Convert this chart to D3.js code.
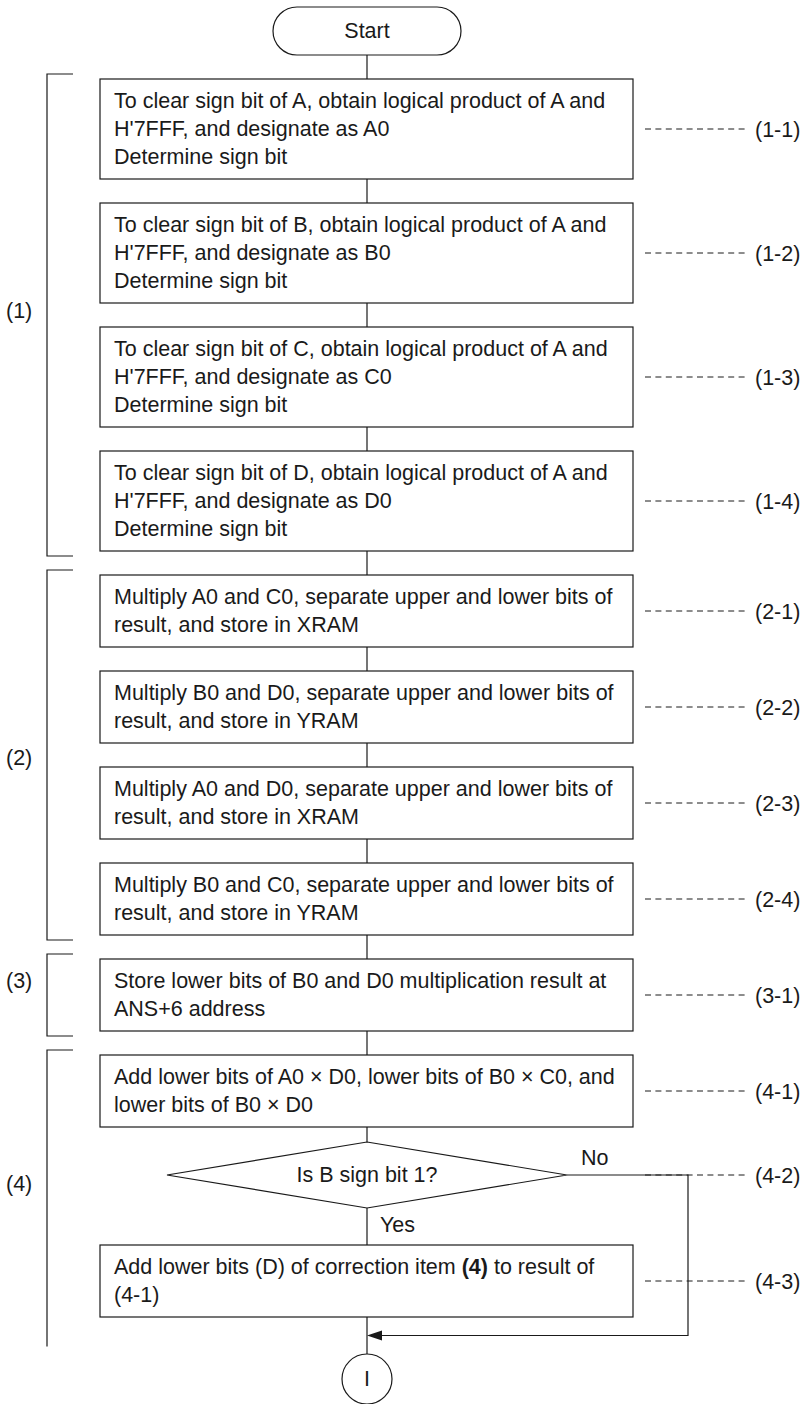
<!DOCTYPE html>
<html>
<head>
<meta charset="utf-8">
<script src="https://cdn.jsdelivr.net/npm/d3@7"></script>
<style>
    body { margin: 0; background: #fff; }
    svg { display: block; }
</style>
</head>
<body>
<div id="chart"></div>
<script>

// flow steps, top to bottom
const stepKinds = ["terminal", "process", "process", "process", "process",
    "process", "process", "process", "process", "process",
    "process", "decision", "process", "connector"];

const stepTexts = [
    ["Start"],
    ["To clear sign bit of A, obtain logical product of A and", "H'7FFF, and designate as A0", "Determine sign bit"],
    ["To clear sign bit of B, obtain logical product of A and", "H'7FFF, and designate as B0", "Determine sign bit"],
    ["To clear sign bit of C, obtain logical product of A and", "H'7FFF, and designate as C0", "Determine sign bit"],
    ["To clear sign bit of D, obtain logical product of A and", "H'7FFF, and designate as D0", "Determine sign bit"],
    ["Multiply A0 and C0, separate upper and lower bits of", "result, and store in XRAM"],
    ["Multiply B0 and D0, separate upper and lower bits of", "result, and store in YRAM"],
    ["Multiply A0 and D0, separate upper and lower bits of", "result, and store in XRAM"],
    ["Multiply B0 and C0, separate upper and lower bits of", "result, and store in YRAM"],
    ["Store lower bits of B0 and D0 multiplication result at", "ANS+6 address"],
    ["Add lower bits of A0 \u00d7 D0, lower bits of B0 \u00d7 C0, and", "lower bits of B0 \u00d7 D0"],
    ["Is B sign bit 1?"],
    ["Add lower bits (D) of correction item **(4)** to result of", "(4-1)"],
    ["I"]
];

const stepRefs = ["", "(1-1)", "(1-2)", "(1-3)", "(1-4)", "(2-1)", "(2-2)", "(2-3)", "(2-4)",
    "(3-1)", "(4-1)", "(4-2)", "(4-3)", ""];

const groupLabels = ["(1)", "(2)", "(3)", "(4)"];
const groupFirst = [1, 5, 9, 10];
const groupLast = [4, 8, 9, 13];

const branchLabels = ["Yes", "No"];

/* * * * * * * * * * * * * * *
*        FlowchartVis         *
* * * * * * * * * * * * * * */

class FlowchartVis {

    constructor(parentElement) {
        let vis = this;
        vis.parentElement = parentElement;
        vis.initVis();
    }

    initVis() {
        let vis = this;

        vis.width = 806;
        vis.height = 1404;
        vis.cx = 367;
        vis.lineH = 28;
        vis.font = "'Liberation Sans', Arial, sans-serif";
        vis.fontSize = 21.5;
        vis.ink = "#1a1a1a";

        vis.svg = d3.select("#" + vis.parentElement)
            .append("svg")
            .attr("width", vis.width)
            .attr("height", vis.height);

        // horizontal scale for the process boxes
        vis.x = d3.scaleLinear().domain([0, 1]).range([100, 633]);

        vis.layout();
        vis.drawLinks();
        vis.drawSteps();
        vis.drawRefs();
        vis.drawGroups();
    }

    layout() {
        let vis = this;
        let y = 7;
        vis.nodes = stepKinds.map((kind, i) => {
            let prev = stepKinds[i - 1];
            let gap = 0;
            if (i > 0) {
                gap = 24;
                if (kind === "decision") gap = 15;
                if (prev === "decision" || kind === "connector") gap = 37;
            }
            let h = 48;
            if (kind === "process") h = stepTexts[i].length * vis.lineH + 16;
            if (kind === "decision") h = 66;
            if (kind === "connector") h = 50;
            y += gap;
            let node = {i: i, kind: kind, top: y, h: h, bottom: y + h, mid: y + h / 2};
            y += h;
            return node;
        });
    }

    drawLinks() {
        let vis = this;
        let g = vis.svg.append("g");

        for (let i = 1; i < vis.nodes.length; i++) {
            g.append("line")
                .attr("x1", vis.cx).attr("x2", vis.cx)
                .attr("y1", vis.nodes[i - 1].bottom)
                .attr("y2", vis.nodes[i].top)
                .attr("stroke", vis.ink)
                .attr("stroke-width", 1.2);
        }

        // "No" branch loops round the correction step
        let dec = vis.nodes.find(d => d.kind === "decision");
        let corr = vis.nodes[dec.i + 1];
        let end = vis.nodes[dec.i + 2];
        vis.arrowY = (corr.bottom + end.top) / 2;
        let loopX = 688;

        g.append("path")
            .attr("d", `M${vis.cx + 200},${dec.mid} H${loopX} V${vis.arrowY} H${vis.cx + 12}`)
            .attr("fill", "none")
            .attr("stroke", vis.ink)
            .attr("stroke-width", 1.2);

        g.append("polygon")
            .attr("points", `${vis.cx},${vis.arrowY} ${vis.cx + 15},${vis.arrowY - 5} ${vis.cx + 15},${vis.arrowY + 5}`)
            .attr("fill", vis.ink);

        g.append("text")
            .attr("x", 380)
            .attr("y", dec.bottom + 17)
            .attr("dominant-baseline", "central")
            .attr("font-family", vis.font)
            .attr("font-size", vis.fontSize)
            .attr("fill", vis.ink)
            .text(branchLabels[0]);

        g.append("text")
            .attr("x", 581)
            .attr("y", dec.mid - 17)
            .attr("dominant-baseline", "central")
            .attr("font-family", vis.font)
            .attr("font-size", vis.fontSize)
            .attr("fill", vis.ink)
            .text(branchLabels[1]);
    }

    drawSteps() {
        let vis = this;

        let steps = vis.svg.selectAll(".step")
            .data(vis.nodes)
            .enter()
            .append("g")
            .attr("class", "step");

        steps.each(function (d) {
            let g = d3.select(this);
            if (d.kind === "terminal") {
                g.append("rect")
                    .attr("x", vis.cx - 94).attr("y", d.top)
                    .attr("width", 188).attr("height", d.h)
                    .attr("rx", d.h / 2)
                    .attr("fill", "#fff").attr("stroke", vis.ink).attr("stroke-width", 1.2);
            } else if (d.kind === "process") {
                g.append("rect")
                    .attr("x", vis.x(0)).attr("y", d.top)
                    .attr("width", vis.x(1) - vis.x(0)).attr("height", d.h)
                    .attr("fill", "#fff").attr("stroke", vis.ink).attr("stroke-width", 1.2);
            } else if (d.kind === "decision") {
                g.append("polygon")
                    .attr("points", [[vis.cx, d.top], [vis.cx + 200, d.mid], [vis.cx, d.bottom], [vis.cx - 200, d.mid]].join(" "))
                    .attr("fill", "#fff").attr("stroke", vis.ink).attr("stroke-width", 1.2);
            } else {
                g.append("circle")
                    .attr("cx", vis.cx).attr("cy", d.mid).attr("r", d.h / 2)
                    .attr("fill", "#fff").attr("stroke", vis.ink).attr("stroke-width", 1.2);
            }

            let lines = stepTexts[d.i];
            let centred = d.kind !== "process";
            let y0 = d.mid - (lines.length - 1) * vis.lineH / 2;

            lines.forEach((line, k) => {
                let t = g.append("text")
                    .attr("x", centred ? vis.cx : vis.x(0) + 14)
                    .attr("y", y0 + k * vis.lineH)
                    .attr("text-anchor", centred ? "middle" : "start")
                    .attr("dominant-baseline", "central")
                    .attr("font-family", vis.font)
                    .attr("font-size", vis.fontSize)
                    .attr("fill", vis.ink);
                // **bold** segments
                line.split("**").forEach((part, j) => {
                    if (part === "") return;
                    t.append("tspan")
                        .attr("font-weight", j % 2 ? "bold" : "normal")
                        .text(part);
                });
            });
        });
    }

    drawRefs() {
        let vis = this;

        let refs = vis.svg.selectAll(".ref")
            .data(vis.nodes.filter(d => stepRefs[d.i] !== ""))
            .enter()
            .append("g")
            .attr("class", "ref");

        refs.append("line")
            .attr("x1", 645).attr("x2", 746)
            .attr("y1", d => d.mid).attr("y2", d => d.mid)
            .attr("stroke", vis.ink)
            .attr("stroke-width", 1)
            .attr("stroke-dasharray", "6,4.4");

        refs.append("text")
            .attr("x", 755)
            .attr("y", d => d.mid + 1)
            .attr("dominant-baseline", "central")
            .attr("font-family", vis.font)
            .attr("font-size", vis.fontSize)
            .attr("fill", vis.ink)
            .text(d => stepRefs[d.i]);
    }

    drawGroups() {
        let vis = this;
        let bx = 47, tick = 26;

        groupLabels.forEach((label, k) => {
            let first = vis.nodes[groupFirst[k]];
            let last = vis.nodes[groupLast[k]];
            let open = last.kind === "connector";
            let top = first.top - 5;
            let bottom = open ? vis.arrowY + 11 : last.bottom + 5;

            let path = `M${bx + tick},${top} H${bx} V${bottom}`;
            if (!open) path += ` H${bx + tick}`;

            vis.svg.append("path")
                .attr("d", path)
                .attr("fill", "none")
                .attr("stroke", vis.ink)
                .attr("stroke-width", 1.2);

            // labels sit a touch above the bracket centre
            let ly = (top + bottom) / 2 - [4, -3, 14, 14][k];
            vis.svg.append("text")
                .attr("x", 6)
                .attr("y", ly)
                .attr("dominant-baseline", "central")
                .attr("font-family", vis.font)
                .attr("font-size", vis.fontSize)
                .attr("fill", vis.ink)
                .text(label);
        });
    }
}

new FlowchartVis("chart");
</script>
</body>
</html>
